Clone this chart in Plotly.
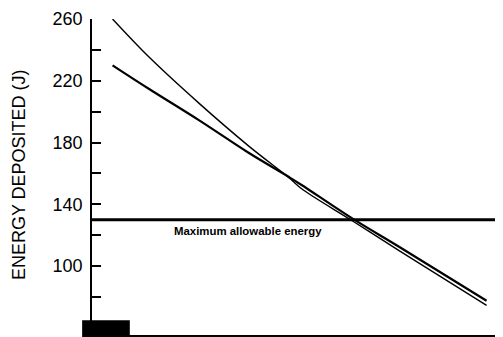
import plotly.graph_objects as go

# Data (x is an unlabeled, arbitrary horizontal scale)
x_vals = [5, 14, 26, 38, 48, 51, 63.5, 75, 96]
thin_curve = [260, 235, 205.5, 178, 157, 150, 129, 109.5, 74.5]
thick_curve = [230, 214.5, 194.5, 173.5, 157.5, 152.5, 130.5, 112, 77.5]
MAX_ALLOWABLE = 130
y_tick_vals = [100, 140, 180, 220, 260]
y_tick_text = ["100", "140", "180", "220", "260"]
y_minor_vals = [80, 120, 160, 200, 240]

fig = go.Figure()
fig.add_trace(go.Scatter(x=x_vals, y=thin_curve, mode="lines",
                         line=dict(color="black", width=1.4, shape="spline"),
                         showlegend=False, hoverinfo="skip"))
fig.add_trace(go.Scatter(x=x_vals, y=thick_curve, mode="lines",
                         line=dict(color="black", width=2.2, shape="spline"),
                         showlegend=False, hoverinfo="skip"))

fig.add_shape(type="line", xref="paper", yref="y", x0=0, x1=1,
              y0=MAX_ALLOWABLE, y1=MAX_ALLOWABLE,
              line=dict(color="black", width=3))
fig.add_annotation(x=38.0, y=MAX_ALLOWABLE, xref="x", yref="y",
                   text="<b>Maximum allowable energy</b>", showarrow=False,
                   xanchor="center", yanchor="top", yshift=-3,
                   font=dict(family="Liberation Sans", size=11.4, color="black"))

# y-axis title
fig.add_annotation(x=0, y=0.506, xref="paper", yref="paper", xshift=-73,
                   text="ENERGY DEPOSITED (J)", textangle=-90, showarrow=False,
                   xanchor="center", yanchor="middle",
                   font=dict(family="Liberation Sans", size=18, color="black"))

# scanning blot at bottom-left of the original
fig.add_shape(type="rect", xref="paper", yref="paper",
              x0=-0.024, x1=0.092, y0=-0.012, y1=0.047,
              fillcolor="black", line=dict(width=0), layer="above")

# page body has an 8px margin, so margins are offset by 8px
fig.update_layout(
    width=503, height=337,
    margin=dict(l=84, r=8, t=11, b=10),
    paper_bgcolor="white", plot_bgcolor="white",
    font=dict(family="Liberation Sans", color="black"),
    xaxis=dict(range=[0, 100], showgrid=False, zeroline=False,
               showticklabels=False, ticks="", showline=True,
               linecolor="black", linewidth=1.5, automargin=False),
    yaxis=dict(range=[55.3, 260], showgrid=False, zeroline=False,
               showline=True, linecolor="black", linewidth=1.5,
               automargin=False,
               tickvals=y_tick_vals, ticktext=y_tick_text,
               ticks="inside", ticklen=9, tickwidth=1.5, tickcolor="black",
               tickfont=dict(family="Liberation Sans", size=18, color="black"),
               ticklabelstandoff=4,
               minor=dict(tickvals=y_minor_vals, ticks="inside",
                          ticklen=9, tickwidth=1.5, tickcolor="black")),
)

fig.write_html("out.html")
